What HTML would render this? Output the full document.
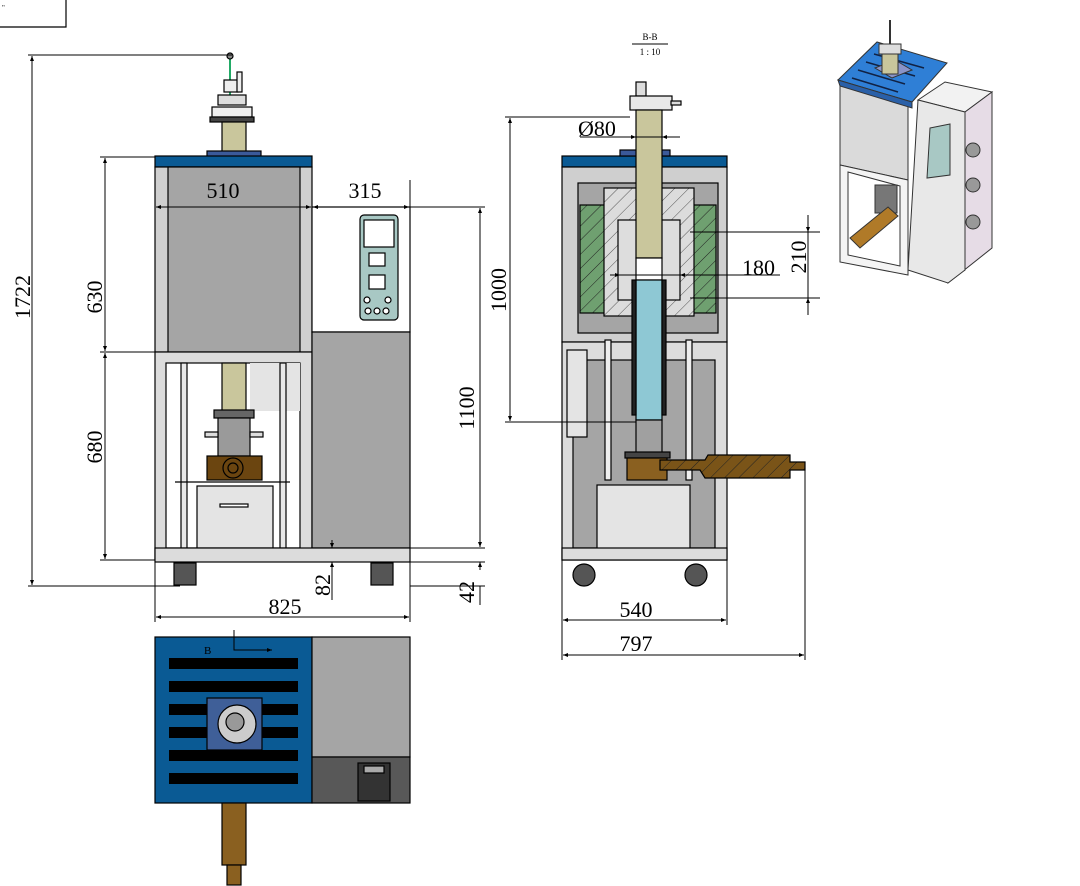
<!DOCTYPE html>
<html><head><meta charset="utf-8"><style>
html,body{margin:0;padding:0;background:#fff;}
svg{display:block;}
text{font-family:"Liberation Serif",serif;fill:#000;}
</style></head><body>
<svg width="1080" height="886" viewBox="0 0 1080 886" xmlns="http://www.w3.org/2000/svg">
<defs>
<marker id="a" viewBox="0 0 10 10" refX="10" refY="5" markerWidth="8" markerHeight="5" orient="auto-start-reverse"><path d="M0,1 L10,5 L0,9z" fill="#000"/></marker>
<pattern id="hg" width="10" height="10" patternUnits="userSpaceOnUse" patternTransform="rotate(45)"><rect width="10" height="10" fill="#6fa070"/><line x1="0" y1="0" x2="0" y2="10" stroke="#222" stroke-width="1"/></pattern>
<pattern id="hw" width="10" height="10" patternUnits="userSpaceOnUse" patternTransform="rotate(45)"><rect width="10" height="10" fill="#dcdcdc"/><line x1="0" y1="0" x2="0" y2="10" stroke="#333" stroke-width="0.8"/></pattern>
<pattern id="hb" width="10" height="10" patternUnits="userSpaceOnUse" patternTransform="rotate(45)"><rect width="10" height="10" fill="#7a5418"/><line x1="0" y1="0" x2="0" y2="10" stroke="#222" stroke-width="1"/></pattern>
</defs>
<polyline points="0,27 66,27 66,0" fill="none" stroke="#000" stroke-width="1.2"/>
<text x="2" y="10" font-size="7">"</text>

<!-- ===== FRONT VIEW ===== -->
<g stroke="#000" stroke-width="1.2">
<line x1="230" y1="55" x2="230" y2="95" stroke="#2a6" stroke-width="2"/>
<circle cx="230" cy="56" r="3" fill="#888"/>
<rect x="224" y="80" width="14" height="12" fill="#eee"/>
<rect x="237" y="72" width="5" height="20" fill="#eee"/>
<rect x="218" y="95" width="28" height="10" fill="#ddd"/>
<rect x="212" y="107" width="40" height="10" fill="#eee"/>
<rect x="210" y="117" width="44" height="5" fill="#444"/>
<rect x="222" y="122" width="24" height="33" fill="#c9c69c"/>
<rect x="207" y="151" width="54" height="6" fill="#3b5a9a"/>
<rect x="155" y="156" width="157" height="11" fill="#0a5a94"/>
<rect x="155" y="167" width="157" height="185" fill="#cfcfcf"/>
<rect x="168" y="167" width="132" height="185" fill="#a5a5a5"/>
<rect x="155" y="352" width="157" height="208" fill="#dcdcdc"/>
<rect x="166" y="363" width="134" height="185" fill="#fff"/>
<rect x="250" y="363" width="50" height="48" fill="#e4e4e4" stroke="none"/>
<rect x="181" y="363" width="6" height="185" fill="#e8e8e8"/>
<rect x="280" y="363" width="6" height="185" fill="#e8e8e8"/>
<rect x="222" y="363" width="24" height="48" fill="#c9c69c"/>
<rect x="214" y="410" width="40" height="8" fill="#666"/>
<rect x="218" y="418" width="32" height="38" fill="#9a9a9a"/>
<rect x="205" y="432" width="13" height="5" fill="#ddd"/>
<rect x="250" y="432" width="13" height="5" fill="#ddd"/>
<rect x="207" y="456" width="55" height="24" fill="#6b4510"/>
<circle cx="233" cy="468" r="10" fill="none"/>
<circle cx="233" cy="468" r="5" fill="none"/>
<line x1="175" y1="482" x2="290" y2="482"/>
<rect x="197" y="486" width="76" height="62" fill="#e4e4e4"/>
<rect x="220" y="504" width="28" height="3" fill="#fff"/>
<rect x="312" y="207" width="98" height="125" fill="#fff"/>
<rect x="360" y="215" width="38" height="105" rx="4" fill="#a8c8c4"/>
<rect x="364" y="220" width="30" height="27" fill="#fff"/>
<rect x="369" y="253" width="16" height="13" fill="#fff"/>
<rect x="369" y="275" width="16" height="14" fill="#fff"/>
<circle cx="367" cy="300" r="3" fill="#fff"/><circle cx="388" cy="300" r="3" fill="#fff"/>
<circle cx="368" cy="311" r="3" fill="#fff"/><circle cx="377" cy="311" r="3" fill="#fff"/><circle cx="386" cy="311" r="3" fill="#fff"/>
<rect x="312" y="332" width="98" height="216" fill="#a5a5a5"/>
<rect x="155" y="548" width="255" height="14" fill="#dcdcdc"/>
<rect x="174" y="563" width="22" height="22" fill="#555"/>
<rect x="371" y="563" width="22" height="22" fill="#555"/>
</g>
<g stroke="#000" stroke-width="1" fill="none">
<line x1="28" y1="55" x2="232" y2="55"/><line x1="28" y1="586" x2="180" y2="586"/>
<line x1="32" y1="56" x2="32" y2="585" marker-start="url(#a)" marker-end="url(#a)"/>
<line x1="100" y1="157" x2="155" y2="157"/><line x1="100" y1="352" x2="155" y2="352"/><line x1="100" y1="560" x2="155" y2="560"/>
<line x1="105" y1="158" x2="105" y2="351" marker-start="url(#a)" marker-end="url(#a)"/>
<line x1="105" y1="353" x2="105" y2="559" marker-start="url(#a)" marker-end="url(#a)"/>
<line x1="156" y1="207" x2="311" y2="207" marker-start="url(#a)" marker-end="url(#a)"/>
<line x1="313" y1="207" x2="409" y2="207" marker-start="url(#a)" marker-end="url(#a)"/>
<line x1="410" y1="180" x2="410" y2="207"/>
<line x1="410" y1="207" x2="485" y2="207"/><line x1="410" y1="548" x2="485" y2="548"/>
<line x1="480" y1="208" x2="480" y2="547" marker-start="url(#a)" marker-end="url(#a)"/>
<line x1="410" y1="562" x2="485" y2="562"/><line x1="410" y1="586" x2="485" y2="586"/>
<line x1="480" y1="570" x2="480" y2="562" marker-end="url(#a)"/><line x1="480" y1="605" x2="480" y2="586"/>
<line x1="155" y1="560" x2="155" y2="622"/><line x1="410" y1="560" x2="410" y2="622"/>
<line x1="156" y1="617" x2="409" y2="617" marker-start="url(#a)" marker-end="url(#a)"/>
<line x1="332" y1="540" x2="332" y2="548" marker-end="url(#a)"/><line x1="332" y1="600" x2="332" y2="562" marker-end="url(#a)"/>
</g>
<g font-size="22">
<text x="22" y="297" transform="rotate(-90 22 297)" text-anchor="middle" dy="8">1722</text>
<text x="94" y="297" transform="rotate(-90 94 297)" text-anchor="middle" dy="8">630</text>
<text x="94" y="447" transform="rotate(-90 94 447)" text-anchor="middle" dy="8">680</text>
<text x="223" y="198" text-anchor="middle">510</text>
<text x="365" y="198" text-anchor="middle">315</text>
<text x="466" y="408" transform="rotate(-90 466 408)" text-anchor="middle" dy="8">1100</text>
<text x="466" y="592" transform="rotate(-90 466 592)" text-anchor="middle" dy="8">42</text>
<text x="322" y="585" transform="rotate(-90 322 585)" text-anchor="middle" dy="8">82</text>
<text x="285" y="614" text-anchor="middle">825</text>
</g>

<!-- ===== SECTION VIEW ===== -->
<g stroke="#000" stroke-width="1.2">
<rect x="562" y="156" width="165" height="11" fill="#0a5a94"/>
<rect x="620" y="150" width="50" height="6" fill="#3b5a9a"/>
<rect x="562" y="167" width="165" height="175" fill="#cfcfcf"/>
<rect x="578" y="183" width="140" height="150" fill="#a5a5a5"/>
<rect x="580" y="205" width="136" height="108" fill="url(#hg)"/>
<rect x="604" y="188" width="90" height="128" fill="url(#hw)"/>
<rect x="618" y="220" width="62" height="80" fill="#ddd"/>
<rect x="562" y="342" width="165" height="218" fill="#dcdcdc"/>
<rect x="573" y="360" width="142" height="188" fill="#a5a5a5"/>
<rect x="567" y="350" width="20" height="87" fill="#e4e4e4"/>
<rect x="605" y="340" width="6" height="140" fill="#eee"/>
<rect x="686" y="340" width="6" height="140" fill="#eee"/>
<rect x="597" y="485" width="93" height="65" fill="#e4e4e4"/>
<rect x="562" y="548" width="165" height="12" fill="#dcdcdc"/>
<circle cx="584" cy="575" r="11" fill="#555"/><circle cx="696" cy="575" r="11" fill="#555"/>
<rect x="636" y="82" width="10" height="14" fill="#ddd"/>
<rect x="630" y="96" width="42" height="14" fill="#e8e8e8"/>
<rect x="671" y="101" width="10" height="4" fill="#ddd"/>
<rect x="636" y="110" width="26" height="148" fill="#c9c69c"/>
<rect x="636" y="258" width="26" height="22" fill="#fff"/>
<rect x="636" y="280" width="26" height="140" fill="#8ec8d4"/>
<rect x="632" y="280" width="4" height="135" fill="#222"/><rect x="662" y="280" width="4" height="135" fill="#222"/>
<rect x="636" y="420" width="26" height="36" fill="#a0a0a0"/>
<rect x="625" y="452" width="45" height="6" fill="#444"/>
<rect x="627" y="458" width="40" height="22" fill="#8a6020"/>
<polygon points="660,460 705,460 708,455 790,455 790,462 805,462 805,470 790,470 790,478 705,478 700,470 660,470" fill="url(#hb)"/>
</g>
<g stroke="#000" stroke-width="1" fill="none">
<line x1="505" y1="117" x2="630" y2="117"/><line x1="505" y1="422" x2="636" y2="422"/>
<line x1="510" y1="118" x2="510" y2="421" marker-start="url(#a)" marker-end="url(#a)"/>
<line x1="580" y1="137" x2="680" y2="137"/>
<line x1="626" y1="137" x2="636" y2="137" marker-end="url(#a)"/><line x1="672" y1="137" x2="662" y2="137" marker-end="url(#a)"/>
<line x1="620" y1="275" x2="780" y2="275"/>
<line x1="610" y1="275" x2="620" y2="275" marker-end="url(#a)"/><line x1="690" y1="275" x2="680" y2="275" marker-end="url(#a)"/>
<line x1="690" y1="232" x2="820" y2="232"/><line x1="690" y1="298" x2="820" y2="298"/>
<line x1="808" y1="215" x2="808" y2="232" marker-end="url(#a)"/><line x1="808" y1="315" x2="808" y2="298" marker-end="url(#a)"/>
<line x1="808" y1="232" x2="808" y2="298"/>
<line x1="562" y1="560" x2="562" y2="660"/><line x1="727" y1="560" x2="727" y2="625"/><line x1="805" y1="470" x2="805" y2="660"/>
<line x1="563" y1="620" x2="726" y2="620" marker-start="url(#a)" marker-end="url(#a)"/>
<line x1="563" y1="655" x2="804" y2="655" marker-start="url(#a)" marker-end="url(#a)"/>
<line x1="632" y1="44" x2="668" y2="44"/>
</g>
<g font-size="22">
<text x="578" y="136">Ø80</text>
<text x="742" y="275">180</text>
<text x="798" y="257" transform="rotate(-90 798 257)" text-anchor="middle" dy="8">210</text>
<text x="498" y="290" transform="rotate(-90 498 290)" text-anchor="middle" dy="8">1000</text>
<text x="636" y="617" text-anchor="middle">540</text>
<text x="636" y="651" text-anchor="middle">797</text>
</g>
<text x="650" y="40" font-size="9" text-anchor="middle">B-B</text>
<text x="650" y="55" font-size="9" text-anchor="middle">1 : 10</text>

<!-- ===== TOP VIEW ===== -->
<g stroke="#000" stroke-width="1.2">
<rect x="155" y="637" width="157" height="166" fill="#0a5a94"/>
<rect x="312" y="637" width="98" height="120" fill="#a5a5a5"/>
<rect x="312" y="757" width="98" height="46" fill="#585858"/>
<rect x="358" y="763" width="32" height="38" fill="#333"/>
<rect x="364" y="766" width="20" height="7" fill="#aaa"/>
<g fill="#000" stroke="none">
<rect x="169" y="658" width="129" height="11"/><rect x="169" y="681" width="129" height="11"/>
<rect x="169" y="704" width="129" height="11"/><rect x="169" y="727" width="129" height="11"/>
<rect x="169" y="750" width="129" height="11"/><rect x="169" y="773" width="129" height="11"/>
</g>
<rect x="207" y="698" width="55" height="52" fill="#3f5f98"/>
<circle cx="237" cy="724" r="19" fill="#ccc"/><circle cx="235" cy="722" r="9" fill="#999"/>
<rect x="222" y="803" width="24" height="62" fill="#8a6020"/>
<rect x="227" y="865" width="14" height="20" fill="#8a6020"/>
</g>
<g stroke="#000" stroke-width="1" fill="none">
<polyline points="234,630 234,650 272,650" marker-end="url(#a)"/>
</g>
<text x="204" y="654" font-size="11">B</text>

<!-- ===== 3D VIEW ===== -->
<g stroke="#333" stroke-width="1">
<!-- cabinet -->
<polygon points="918,100 945,82 992,92 965,112" fill="#f2f2f2"/>
<polygon points="965,112 992,92 992,248 948,283 948,278 965,270" fill="#e6dce6"/>
<polygon points="918,100 965,112 965,270 948,283 908,270" fill="#e8e8e8"/>
<polygon points="930,128 950,124 950,175 927,178" fill="#a8c8c4"/>
<circle cx="973" cy="150" r="7" fill="#999"/><circle cx="973" cy="185" r="7" fill="#999"/><circle cx="973" cy="222" r="7" fill="#999"/>
<!-- furnace -->
<polygon points="840,85 908,103 908,180 840,165" fill="#dadada"/>
<polygon points="840,165 908,180 908,275 840,262" fill="#f4f4f4"/>
<polygon points="848,172 900,186 900,266 848,255" fill="#fff"/>
<rect x="875" y="185" width="22" height="28" fill="#777"/>
<polygon points="850,238 888,207 898,216 860,248" fill="#b07a28"/>
<polygon points="838,80 877,42 947,63 912,102" fill="#2f7fd6"/>
<polygon points="838,80 912,102 912,108 840,86" fill="#2a60a8"/>
<g stroke="#124" stroke-width="1.5">
<line x1="858" y1="70" x2="905" y2="84"/><line x1="866" y1="62" x2="915" y2="76"/><line x1="874" y1="54" x2="924" y2="68"/><line x1="852" y1="78" x2="898" y2="92"/>
</g>
<polygon points="875,68 895,60 912,70 892,78" fill="#8a94c8"/>
<rect x="882" y="52" width="16" height="22" fill="#c9c69c"/>
<rect x="879" y="44" width="22" height="10" fill="#ddd"/>
<line x1="890" y1="20" x2="890" y2="44" stroke-width="2"/>
</g>
</svg>
</body></html>
